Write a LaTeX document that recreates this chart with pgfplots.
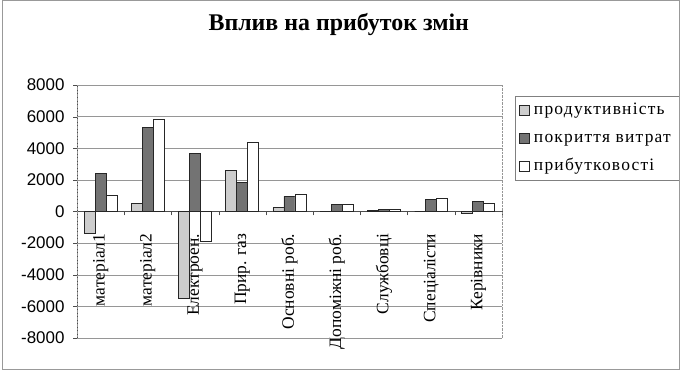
\documentclass[border=0pt]{standalone}
\usepackage{fontspec}
\setmainfont{Liberation Serif}
\newfontfamily\arialf{Liberation Sans}
\newfontfamily\legf[LetterSpace=7]{Liberation Serif}
\usepackage{pgfplots}
\pgfplotsset{compat=1.18}
\pgfplotsset{layers/mylayers/.define layer set={axis background,axis grid,main,axis ticks,axis lines,axis tick labels,axis descriptions,axis foreground}{}}
\definecolor{prodc}{RGB}{205,205,205}
\definecolor{pokrc}{RGB}{115,115,115}
\definecolor{gridc}{RGB}{150,150,150}
\begin{document}
\begin{tikzpicture}
\begin{axis}[
  set layers=mylayers,
  at={(0,0)}, anchor=south west,
  scale only axis, width=425bp, height=253bp,
  ybar=0pt, bar width=11bp,
  xmin=-0.5, xmax=8.5, ymin=-8000, ymax=8000,
  axis x line=middle, axis y line=left,
  axis line style={-, draw=black!70},
  xtick={0,...,8},
  xticklabels={матеріал1,матеріал2,Електроен.,Прир. газ,Основні роб.,Допоміжні роб.,Службовці,Спеціалісти,Керівники},
  xticklabel style={rotate=90, anchor=east, font=\fontsize{17.5}{17.5}\selectfont, inner sep=1bp, xshift=-17bp},
  major x tick style={draw=none},
  minor xtick={-0.5,0.5,...,8.5},
  minor x tick style={draw=black!70},
  minor tick length=4bp,
  ytick={-8000,-6000,...,8000},
  major tick length=4bp,
  tick align=outside,
  y tick style={draw=black!70},
  yticklabel style={font=\arialf\fontsize{17}{17}\selectfont, xshift=-5bp},
  /pgf/number format/assume math mode=true,
  /pgf/number format/1000 sep={},
  ymajorgrids, grid style={draw=gridc, line width=0.4pt},
  title={Вплив на прибуток змін},
  title style={at={(0.616,1.217)}, anchor=center, font=\bfseries\fontsize{24}{24}\selectfont},
  legend style={at={(1.0306,0.955)}, anchor=north west, draw=black!50,
    font=\legf\fontsize{17.5}{17.5}\selectfont, row sep=8bp, inner sep=4bp,
    nodes={text height=12bp, text depth=4bp, inner xsep=4bp},
    legend cell align=left},
  legend image code/.code={\draw[#1] (0bp,-5bp) rectangle (10bp,5bp);},
  clip=false,
]
\addplot[fill=prodc, draw=black!85, line width=0.8pt] coordinates {
 (0,-1370) (1,530) (2,-5520) (3,2590) (4,250) (5,0) (6,80) (7,0) (8,-100)};
\addplot[fill=pokrc, draw=black!85, line width=0.8pt] coordinates {
 (0,2380) (1,5330) (2,3680) (3,1810) (4,950) (5,450) (6,150) (7,750) (8,650)};
\addplot[fill=white, draw=black!85, line width=0.8pt] coordinates {
 (0,1010) (1,5810) (2,-1890) (3,4380) (4,1050) (5,450) (6,150) (7,850) (8,500)};
\legend{продуктивність, покриття витрат, прибутковості}
\draw[gridc, densely dotted] (rel axis cs:0,0) rectangle (rel axis cs:1,1);
\end{axis}
\draw[black!40] (-75bp,-31bp) rectangle (602bp,338bp);
\pgfresetboundingbox
\path (-77bp,-37bp) rectangle (612bp,338bp);
\end{tikzpicture}
\end{document}
